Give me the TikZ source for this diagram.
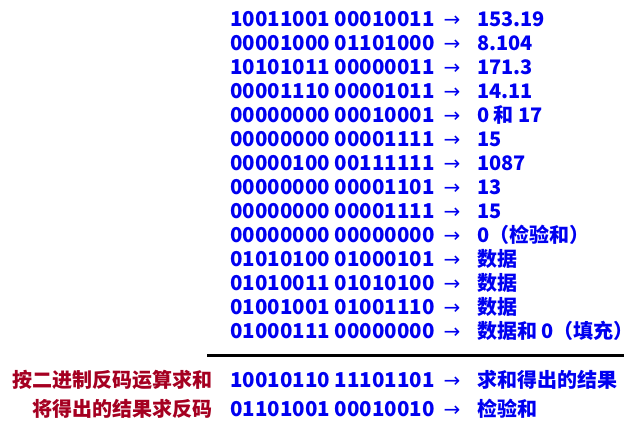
\documentclass[tikz,border=0pt]{standalone}
\usepackage{fontspec}
\setmainfont{Noto Sans CJK SC}
\newfontfamily\arrowfont{DejaVu Sans}
\definecolor{bl}{RGB}{0,0,240}
\definecolor{dr}{RGB}{165,0,33}
\begin{document}
\begin{tikzpicture}[x=1pt,y=-1pt,
  bin/.style={anchor=base west,inner sep=0pt,text=bl,font=\fontsize{20.5}{22}\selectfont\bfseries},
  arr/.style={anchor=base,inner sep=0pt,text=bl,font=\fontsize{20}{22}\arrowfont},
  res/.style={anchor=base west,inner sep=0pt,text=bl,font=\fontsize{20}{22}\selectfont\bfseries},
  lab/.style={anchor=base east,inner sep=0pt,text=dr,font=\fontsize{20}{22}\selectfont\bfseries}]
\useasboundingbox (0,0) rectangle (636,432);
\foreach \i/\b/\r in {1/10011001 00010011/153.19,
  2/00001000 01101000/8.104,
  3/10101011 00000011/171.3,
  4/00001110 00001011/14.11,
  5/00000000 00010001/0 和 17,
  6/00000000 00001111/15,
  7/00000100 00111111/1087,
  8/00000000 00001101/13,
  9/00000000 00001111/15,
  10/00000000 00000000/0（检验和）,
  11/01010100 01000101/数据,
  12/01010011 01010100/数据,
  13/01001001 01001110/数据,
  14/01000111 00000000/数据和 0（填充）}{
  \pgfmathsetmacro{\yy}{26+24*(\i-1)}
  \node[bin] (b\i) at (230,\yy) {\b};
  \node[arr] (a\i) at (452,\yy) {→};
  \node[res] (r\i) at (477,\yy) {\r};
}
\draw[line width=3pt] (207,355) -- (624,355);
\node[lab] (l1) at (213,387) {按二进制反码运算求和};
\node[bin] (s1) at (230,387) {10010110 11101101};
\node[arr] (sa1) at (452,387) {→};
\node[res] (sr1) at (477,387) {求和得出的结果};
\node[lab] (l2) at (213,416) {将得出的结果求反码};
\node[bin] (s2) at (230,416) {01101001 00010010};
\node[arr] (sa2) at (452,416) {→};
\node[res] (sr2) at (477,416) {检验和};
\end{tikzpicture}
\end{document}
